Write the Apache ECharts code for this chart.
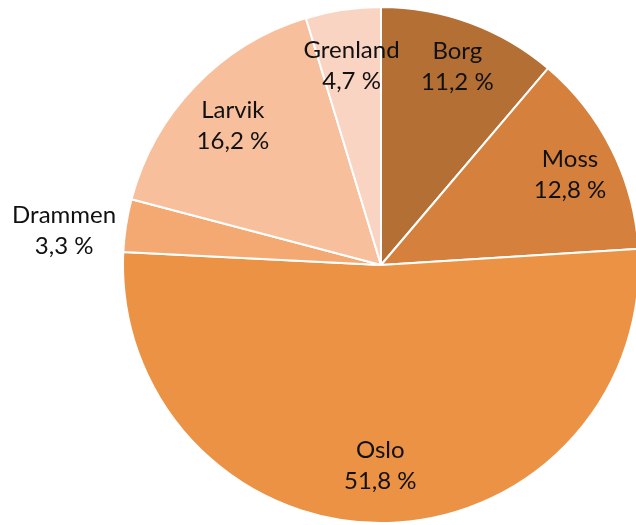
<!DOCTYPE html>
<html>
<head>
<meta charset="utf-8">
<script src="https://cdn.jsdelivr.net/npm/echarts@6/dist/echarts.min.js"></script>
<style>
  html, body { margin: 0; padding: 0; background: #fff; }
  #chart { width: 636px; height: 525px; }
</style>
</head>
<body>
<div id="chart"></div>
<script>
// Share per region, clockwise from the top
const regions = ['Borg', 'Moss', 'Oslo', 'Drammen', 'Larvik', 'Grenland'];
const shares = [11.2, 12.8, 51.8, 3.3, 16.2, 4.7];
const sliceColors = ['#B46F35', '#D5813D', '#EC9245', '#F4A872', '#F8BF9D', '#FAD4C2'];

// small label nudges (padding), Excel does not place them exactly radially
const labelPad = {
  Borg: [0, 0, 8, 10],
  Moss: [6, 0, 0, 8],
  Oslo: [0, 4, 12, 0],
  Drammen: [12, 0, 0, 0],
  Larvik: [8, 0, 0, 2],
  Grenland: [12, 0, 0, 2],
};

const fmt = v => v.toFixed(1).replace('.', ',') + ' %';

const chart = echarts.init(document.getElementById('chart'));

const font = {
  fontFamily: 'Lato',
  fontSize: 24,
  lineHeight: 31,
  color: '#111',
};

const richLabel = {
  formatter: p => `{a|${p.name}}\n{a|${fmt(p.value)}}`,
  rich: { a: Object.assign({ width: 104, align: 'center' }, font) },
};

chart.setOption({
  animation: false,
  series: [
    {
      // the visible pie; only Drammen is labelled outside
      type: 'pie',
      center: [381, 265],
      radius: 258,
      startAngle: 90,
      clockwise: true,
      silent: true,
      avoidLabelOverlap: false,
      itemStyle: { borderColor: '#fff', borderWidth: 2 },
      labelLine: { show: false, length: 5, length2: 0 },
      label: Object.assign({
        show: true,
        position: 'outside',
        overflow: 'none',
        edgeDistance: 0,
      }, richLabel),
      data: regions.map((name, i) => ({
        name,
        value: shares[i],
        itemStyle: { color: sliceColors[i] },
        label: name === 'Drammen'
          ? { show: true, padding: labelPad[name] }
          : { show: false },
      })),
    },
    {
      // transparent twin pie, only used to place the inner labels further out
      type: 'pie',
      center: [381, 265],
      radius: 408,
      startAngle: 90,
      clockwise: true,
      silent: true,
      itemStyle: { color: 'rgba(0,0,0,0)', borderWidth: 0 },
      labelLine: { show: false },
      label: Object.assign({ position: 'inside' }, richLabel),
      data: regions.map((name, i) => ({
        name,
        value: shares[i],
        label: name === 'Drammen'
          ? { show: false }
          : { show: true, padding: labelPad[name] },
      })),
    },
  ],
});
</script>
</body>
</html>
